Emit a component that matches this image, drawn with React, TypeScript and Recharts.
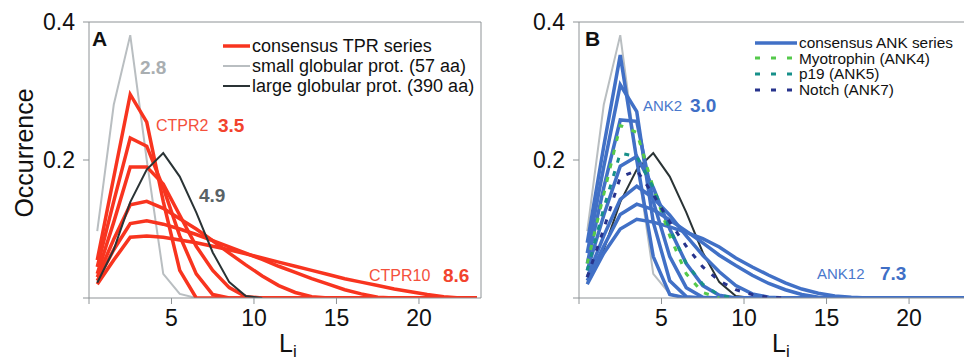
import { LineChart, Line, XAxis, YAxis, ReferenceLine, Legend, Customized } from "recharts";

// bin centres of L_i
const bins = [0.5, 1.5, 2.5, 3.5, 4.5, 5.5, 6.5, 7.5, 8.5, 9.5, 10.5, 11.5, 12.5, 13.5, 14.5, 15.5, 16.5, 17.5, 18.5, 19.5, 20.5, 21.5, 22.5, 23.5];

// reference proteins (same in both panels)
const smallGlob = [0.097, 0.28, 0.381, 0.2, 0.035, 0.006, 0.0];
const largeGlob = [0.022, 0.07, 0.139, 0.186, 0.21, 0.176, 0.124, 0.066, 0.023, 0.003, 0.0];

// panel A: consensus TPR series
const ctpr2 = [0.055, 0.175, 0.295, 0.255, 0.14, 0.04, 0, 0, 0, 0, 0, 0, 0, 0, 0, 0, 0, 0, 0, 0, 0, 0, 0, 0];
const ctpr3 = [0.045, 0.14, 0.232, 0.22, 0.16, 0.09, 0.035, 0.005, 0, 0, 0, 0, 0, 0, 0, 0, 0, 0, 0, 0, 0, 0, 0, 0];
const ctpr4 = [0.035, 0.11, 0.19, 0.19, 0.165, 0.12, 0.075, 0.04, 0.015, 0.002, 0, 0, 0, 0, 0, 0, 0, 0, 0, 0, 0, 0, 0, 0];
const ctpr6 = [0.03, 0.085, 0.135, 0.14, 0.13, 0.115, 0.1, 0.083, 0.065, 0.048, 0.032, 0.018, 0.008, 0.002, 0, 0, 0, 0, 0, 0, 0, 0, 0, 0];
const ctpr8 = [0.025, 0.07, 0.108, 0.112, 0.107, 0.1, 0.092, 0.083, 0.074, 0.065, 0.056, 0.046, 0.037, 0.028, 0.02, 0.012, 0.006, 0.001, 0, 0, 0, 0, 0, 0];
const ctpr10 = [0.02, 0.055, 0.088, 0.09, 0.088, 0.084, 0.08, 0.075, 0.07, 0.064, 0.058, 0.052, 0.046, 0.04, 0.034, 0.028, 0.023, 0.018, 0.013, 0.009, 0.005, 0.002, 0, 0];

// panel B: consensus ANK series
const ank2 = [0.08, 0.22, 0.352, 0.2, 0.06, 0.005, 0, 0, 0, 0, 0, 0, 0, 0, 0, 0, 0, 0, 0, 0, 0, 0, 0, 0];
const ank3 = [0.065, 0.19, 0.309, 0.27, 0.11, 0.025, 0.002, 0, 0, 0, 0, 0, 0, 0, 0, 0, 0, 0, 0, 0, 0, 0, 0, 0];
const ank4 = [0.05, 0.16, 0.258, 0.256, 0.14, 0.06, 0.015, 0.001, 0, 0, 0, 0, 0, 0, 0, 0, 0, 0, 0, 0, 0, 0, 0, 0];
const ank5 = [0.04, 0.12, 0.191, 0.205, 0.16, 0.1, 0.05, 0.018, 0.004, 0, 0, 0, 0, 0, 0, 0, 0, 0, 0, 0, 0, 0, 0, 0];
const ank6 = [0.03, 0.09, 0.143, 0.162, 0.145, 0.12, 0.09, 0.062, 0.038, 0.018, 0.006, 0.001, 0, 0, 0, 0, 0, 0, 0, 0, 0, 0, 0, 0];
const ank8 = [0.025, 0.075, 0.121, 0.136, 0.128, 0.113, 0.097, 0.08, 0.062, 0.047, 0.033, 0.021, 0.012, 0.005, 0.001, 0, 0, 0, 0, 0, 0, 0, 0, 0];
const ank12 = [0.02, 0.065, 0.1, 0.114, 0.11, 0.103, 0.095, 0.086, 0.074, 0.058, 0.045, 0.033, 0.022, 0.013, 0.007, 0.003, 0.001, 0, 0, 0, 0, 0, 0, 0];
const myotrophin = [0.05, 0.15, 0.25, 0.24, 0.16, 0.09, 0.035, 0.008, 0];
const p19 = [0.04, 0.13, 0.21, 0.205, 0.16, 0.1, 0.05, 0.02, 0.004, 0];
const notch = [0.03, 0.1, 0.175, 0.185, 0.15, 0.11, 0.075, 0.045, 0.025, 0.012, 0.005, 0.001, 0];

const xTicks = [0, 5, 10, 15, 20];
const yTicks = [0, 0.2, 0.4];

const AXIS = "#8e9396";
const RED = "#f8341f";
const BLUE = "#4170c6";
const GRAY = "#b9bec1";
const DARK = "#2a3335";
const GREEN = "#55c94b";
const TEAL = "#17908a";
const NAVY = "#27338c";
const FONT = "'Liberation Sans', Arial, sans-serif";

function rows(series: Record<string, number[]>) {
  return bins.map((x, i) => {
    const r: Record<string, number | null> = { x };
    for (const k in series) r[k] = series[k][i] ?? null;
    return r;
  });
}

const dataA = rows({ smallGlob, largeGlob, ctpr2, ctpr3, ctpr4, ctpr6, ctpr8, ctpr10 });
const dataB = rows({ smallGlob, largeGlob, ank2, ank3, ank4, ank5, ank6, ank8, ank12, myotrophin, p19, notch });

const redKeys = ["ctpr2", "ctpr3", "ctpr4", "ctpr6", "ctpr8", "ctpr10"];
const blueKeys = ["ank2", "ank3", "ank4", "ank5", "ank6", "ank8", "ank12"];

type Item = { label: string; color: string; width: number; dash?: string };

const legendA: Item[] = [
  { label: "consensus TPR series", color: RED, width: 3.5 },
  { label: "small globular prot. (57 aa)", color: GRAY, width: 2 },
  { label: "large globular prot. (390 aa)", color: DARK, width: 2 },
];
const legendB: Item[] = [
  { label: "consensus ANK series", color: BLUE, width: 3.5 },
  { label: "Myotrophin (ANK4)", color: GREEN, width: 3, dash: "5 11" },
  { label: "p19 (ANK5)", color: TEAL, width: 3, dash: "5 11" },
  { label: "Notch (ANK7)", color: NAVY, width: 3, dash: "5 11" },
];

function LegendBox({ items, sample, rowH, fontSize }: { items: Item[]; sample: number; rowH: number; fontSize: number }) {
  return (
    <div style={{ fontFamily: FONT, fontSize, color: "#111", lineHeight: `${rowH}px` }}>
      {items.map((it) => (
        <div key={it.label} style={{ display: "flex", alignItems: "center", height: rowH, whiteSpace: "nowrap" }}>
          <svg width={sample} height={6} style={{ marginRight: 2, flex: "none" }}>
            <line x1={0} y1={3} x2={sample} y2={3} stroke={it.color} strokeWidth={it.width} strokeDasharray={it.dash} />
          </svg>
          <span>{it.label}</span>
        </div>
      ))}
    </div>
  );
}

const tickStyle = { fill: "#111", fontSize: 23, fontFamily: FONT };
const fmt = (v: number) => (v === 0 ? "" : String(v));

function Subscript({ x }: { x: number }) {
  return (
    <text x={x} y={352} fontSize={25} fill="#111" fontFamily={FONT}>
      L<tspan dy={5} fontSize={17}>i</tspan>
    </text>
  );
}

function Value({ x, y, t, c }: { x: number; y: number; t: string; c: string }) {
  return (
    <text x={x} y={y} fontSize={19} fontWeight="bold" fill={c} fontFamily={FONT}>
      {t}
    </text>
  );
}

function Name({ x, y, t, c, s = 16 }: { x: number; y: number; t: string; c: string; s?: number }) {
  return (
    <text x={x} y={y} fontSize={s} fill={c} fontFamily={FONT}>
      {t}
    </text>
  );
}

function PanelA() {
  return (
    <LineChart width={490} height={363} data={dataA} margin={{ top: 22, right: 9, bottom: 35, left: 0 }}>
      <XAxis
        type="number"
        dataKey="x"
        domain={[0, 23.76]}
        ticks={xTicks}
        tickFormatter={fmt}
        height={30}
        tickSize={6}
        tickMargin={6}
        stroke={AXIS}
        tick={tickStyle}
        allowDataOverflow
      />
      <YAxis
        type="number"
        domain={[0, 0.4]}
        ticks={yTicks}
        tickFormatter={fmt}
        width={89}
        tickSize={6}
        tickMargin={8}
        stroke={AXIS}
        tick={tickStyle}
        allowDataOverflow
      />
      <ReferenceLine y={0.4} stroke={AXIS} />
      <ReferenceLine x={23.76} stroke={AXIS} />
      <Line dataKey="smallGlob" stroke={GRAY} strokeWidth={2} dot={false} isAnimationActive={false} />
      {redKeys.map((k) => (
        <Line key={k} dataKey={k} stroke={RED} strokeWidth={3.5} dot={false} isAnimationActive={false} />
      ))}
      <Line dataKey="largeGlob" stroke={DARK} strokeWidth={2} dot={false} isAnimationActive={false} />
      <Legend
        layout="horizontal"
        verticalAlign="middle"
        align="center"
        wrapperStyle={{ top: 35.5, left: 223, width: 260, height: "auto" }}
        content={() => <LegendBox items={legendA} sample={27} rowH={20.4} fontSize={18} />}
      />
      <Customized
        component={() => (
          <g>
            <text x={92} y={45.5} fontSize={21} fontWeight="bold" fill="#111" fontFamily={FONT}>A</text>
            <text transform="translate(33,153) rotate(-90)" textAnchor="middle" fontSize={25} fill="#111" fontFamily={FONT}>
              Occurrence
            </text>
            <Value x={140} y={74} t="2.8" c="#a9aeb1" />
            <Name x={156} y={131} t="CTPR2" c="#f4503b" />
            <Value x={218} y={132} t="3.5" c="#f2432d" />
            <Value x={199} y={202} t="4.9" c="#596265" />
            <Name x={369} y={281} t="CTPR10" c="#f4503b" />
            <Value x={443} y={282} t="8.6" c="#f2432d" />
            <Subscript x={279} />
          </g>
        )}
      />
    </LineChart>
  );
}

function PanelB() {
  return (
    <LineChart width={474} height={363} data={dataB} margin={{ top: 22, right: 0, bottom: 35, left: 0 }}>
      <XAxis
        type="number"
        dataKey="x"
        domain={[0, 23.33]}
        ticks={xTicks}
        tickFormatter={fmt}
        height={30}
        tickSize={6}
        tickMargin={6}
        stroke={AXIS}
        tick={tickStyle}
        allowDataOverflow
      />
      <YAxis
        type="number"
        domain={[0, 0.4]}
        ticks={yTicks}
        tickFormatter={fmt}
        width={89}
        tickSize={6}
        tickMargin={8}
        stroke={AXIS}
        tick={tickStyle}
        allowDataOverflow
      />
      <ReferenceLine y={0.4} stroke={AXIS} />
      <Line dataKey="smallGlob" stroke={GRAY} strokeWidth={2} dot={false} isAnimationActive={false} />
      <Line dataKey="largeGlob" stroke={DARK} strokeWidth={2} dot={false} isAnimationActive={false} />
      {blueKeys.map((k) => (
        <Line key={k} dataKey={k} stroke={BLUE} strokeWidth={3.5} dot={false} isAnimationActive={false} />
      ))}
      <Line dataKey="myotrophin" stroke={GREEN} strokeWidth={3} strokeDasharray="5 9" dot={false} isAnimationActive={false} />
      <Line dataKey="p19" stroke={TEAL} strokeWidth={3} strokeDasharray="5 9" dot={false} isAnimationActive={false} />
      <Line dataKey="notch" stroke={NAVY} strokeWidth={3} strokeDasharray="5 9" dot={false} isAnimationActive={false} />
      <Legend
        layout="horizontal"
        verticalAlign="middle"
        align="center"
        wrapperStyle={{ top: 35, left: 265, width: 209, height: "auto" }}
        content={() => <LegendBox items={legendB} sample={42} rowH={15.6} fontSize={15.4} />}
      />
      <Customized
        component={() => (
          <g>
            <text x={95} y={45.5} fontSize={21} fontWeight="bold" fill="#111" fontFamily={FONT}>B</text>
            <Name x={153} y={111} t="ANK2" c="#4a78cc" s={15} />
            <Value x={200} y={112} t="3.0" c="#3f6fc6" />
            <Name x={327} y={279} t="ANK12" c="#4a78cc" s={15} />
            <Value x={390} y={280} t="7.3" c="#3f6fc6" />
            <Subscript x={282} />
          </g>
        )}
      />
    </LineChart>
  );
}

export default function App() {
  return (
    <div style={{ position: "absolute", left: 0, top: 0, width: 964, height: 363, overflow: "hidden", background: "#fff", fontFamily: FONT }}>
      <div style={{ position: "absolute", left: 0, top: 0 }}>
        <PanelA />
      </div>
      <div style={{ position: "absolute", left: 490, top: 0 }}>
        <PanelB />
      </div>
    </div>
  );
}
